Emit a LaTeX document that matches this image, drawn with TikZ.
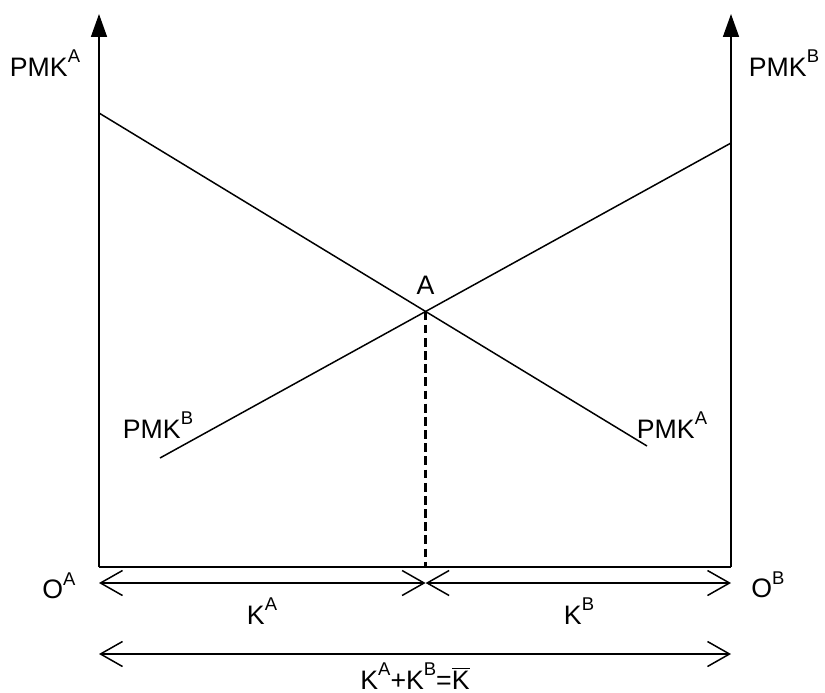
\documentclass[tikz,border=0pt]{standalone}
\usepackage{fontspec}
\setmainfont{Liberation Sans}
\usepackage{tikz}
\usetikzlibrary{arrows.meta,intersections,calc}
\newcommand{\sups}[1]{\raisebox{0.5em}{\fontsize{10.5pt}{12pt}\selectfont #1}}

\begin{document}
\begin{tikzpicture}[
  x=0.02cm,y=-0.02cm,
  every node/.style={font=\fontsize{15.2pt}{18pt}\selectfont,inner sep=0pt},
  axis/.style={-{Triangle[length=0.46cm,width=0.32cm]},line width=0.9pt},
  curve/.style={line width=0.85pt},
  span/.style={{Straight Barb[length=0.44cm,width=0.5cm]}-{Straight Barb[length=0.44cm,width=0.5cm]},line width=0.85pt}
]
\useasboundingbox (0,0) rectangle (825,693);

% axes
\coordinate (OA) at (99,567);
\coordinate (OB) at (731,567);
\coordinate (topA) at (99,14);
\coordinate (topB) at (731,14);
\draw[axis] (OA) -- (topA);
\draw[axis] (OB) -- (topB);
\draw[line width=0.9pt] (OA) -- (OB);

\node (lblA) at (45,63) {PMK\sups{A}};
\node (lblB) at (784,63) {PMK\sups{B}};
\node (oA) at (59,586) {O\sups{A}};
\node (oB) at (768,585) {O\sups{B}};

% the two curves
\coordinate (a1) at (99,113);
\coordinate (a2) at (647,446);
\coordinate (b1) at (160,458);
\coordinate (b2) at (731,143);
\draw[curve,name path=pmka] (a1) -- (a2);
\draw[curve,name path=pmkb] (b1) -- (b2);
\node (cA) at (672,425) {PMK\sups{A}};
\node (cB) at (158,425) {PMK\sups{B}};

% equilibrium
\path[name intersections={of=pmka and pmkb,by=E}];
\node (eq) at ($(E)+(0,-26)$) {A};
\draw[curve,dashed,dash pattern=on 5pt off 2.5pt,line width=1.3pt] (E) -- (E |- OA);

% allocation of capital
\coordinate (m1) at (99,583);
\coordinate (m2) at (E |- m1);
\coordinate (m3) at (731,583);
\draw[span] (m1) -- (m2);
\draw[span] (m2) -- (m3);
\node (kA) at (262,611) {K\sups{A}};
\node (kB) at (579,611) {K\sups{B}};

\coordinate (n1) at (99,654);
\coordinate (n2) at (731,654);
\draw[span] (n1) -- (n2);
\node (kT) at (415,676) {K\sups{A}+K\sups{B}=$\overline{\hbox{K}}$};
\end{tikzpicture}
\end{document}
